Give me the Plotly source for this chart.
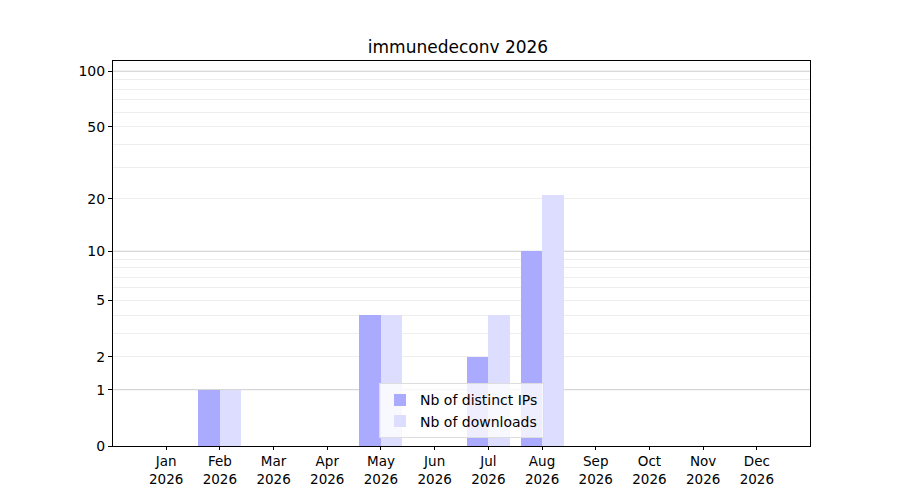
import plotly.graph_objects as go

months = ['Jan', 'Feb', 'Mar', 'Apr', 'May', 'Jun',
          'Jul', 'Aug', 'Sep', 'Oct', 'Nov', 'Dec']
year = '2026'
distinct_ips = [0, 1, 0, 0, 4, 0, 2, 10, 0, 0, 0, 0]
downloads = [0, 1, 0, 0, 4, 0, 4, 21, 0, 0, 0, 0]
ytick_labels = [0, 1, 2, 5, 10, 20, 50, 100]

# log(1 + x) scale: plot on a log axis, shifted by one
shift = lambda v: [x + 1 for x in v]
xs = list(range(len(months)))
font = 'DejaVu Sans'

fig = go.Figure()
fig.add_bar(x=[i - 0.2 for i in xs], y=distinct_ips, base=1, width=0.4,
            marker=dict(color='#aaaaff', line_width=0), name='Nb of distinct IPs')
fig.add_bar(x=[i + 0.2 for i in xs], y=downloads, base=1, width=0.4,
            marker=dict(color='#ddddff', line_width=0), name='Nb of downloads')

minor_vals = [v for v in list(range(2, 10)) + list(range(20, 100, 10))]
for v in [1, 10, 100]:
    fig.add_hline(y=v + 1, line=dict(color='#cccccc', width=1), layer='below')

fig.update_layout(
    width=900, height=500,
    plot_bgcolor='white', paper_bgcolor='white',
    margin=dict(l=105, r=98, t=53, b=62),
    font=dict(family=font, size=14, color='black'),
    title=dict(text='immunedeconv 2026', x=0.5, xanchor='center',
               y=0.921, yanchor='middle', font=dict(size=17)),
    barmode='overlay', bargap=0,
    showlegend=True,
    legend=dict(x=0.5, xanchor='center', y=0.02, yanchor='bottom',
                bgcolor='rgba(255,255,255,0.8)', bordercolor='#dddddd',
                borderwidth=1, font=dict(size=14), traceorder='normal'),
)
fig.update_xaxes(
    range=[-0.99, 11.99], tickmode='array', tickvals=xs,
    ticktext=[f'{m}<br>{year}' for m in months], tickfont=dict(size=13.5),
    showgrid=False, zeroline=False, showline=True, linecolor='black',
    linewidth=1, mirror=True, ticks='outside', ticklen=3, tickcolor='black',
)
fig.update_yaxes(
    type='log', range=[0, 2.059], tickmode='array',
    tickvals=shift(ytick_labels), ticktext=[str(t) for t in ytick_labels],
    showgrid=False, zeroline=False, showline=True, linecolor='black',
    linewidth=1, mirror=True, ticks='outside', ticklen=4, tickcolor='black',
    minor=dict(tickmode='array', tickvals=shift(minor_vals), showgrid=True,
               gridcolor='#eeeeee', gridwidth=1, ticks=''),
)

fig.write_html('out.html')
